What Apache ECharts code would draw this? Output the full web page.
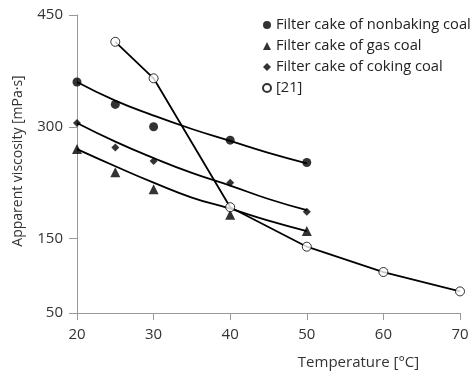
<!DOCTYPE html>
<html><head><meta charset="utf-8">
<script src="https://cdn.jsdelivr.net/npm/echarts@6/dist/echarts.min.js"></script>
<style>html,body{margin:0;padding:0;background:#fff}#c{width:471px;height:372px}</style>
</head><body><div id="c"></div>
<script>
const temps = [20, 25, 30, 40, 50];
const nonbaking = [360, 330, 300, 282, 252];
const gasCoal = [270, 239, 216, 182, 160];
const cokingCoal = [305, 272, 254, 225, 186];
const ref21Temps = [25, 30, 40, 50, 60, 70];
const ref21 = [414, 365, 192, 139, 105, 79];
// trend curves
const fitTemps = [20, 25, 30, 35, 40, 45, 50];
const nonbakingFit = [360, 335, 315, 297, 281, 265, 251];
const gasFit = [270, 247, 225, 205, 190, 174, 160];
const cokingFit = [305, 280, 258, 238, 221, 203, 188];
const yTicks = [50, 150, 300, 450];
const names = ['Filter cake of nonbaking coal', 'Filter cake of gas coal', 'Filter cake of coking coal', '[21]'];

const pairs = (xs, ys) => xs.map((x, i) => [x, ys[i]]);
const font = '"Open Sans", sans-serif';
const lineStyle = {color: '#000', width: 1.8};

const chart = echarts.init(document.getElementById('c'), null, {renderer: 'canvas'});
chart.setOption({
  animation: false,
  grid: {left: 77, right: 11, top: 15, bottom: 59, outerBoundsMode: 'none', containLabel: false},
  legend: {
    orient: 'vertical', left: 257, top: 12, itemGap: 5, itemWidth: 8, itemHeight: 8,
    textStyle: {fontFamily: font, fontSize: 14.7, color: '#222', lineHeight: 16, padding: [0,0,0,0]},
    data: names
  },
  xAxis: {
    type: 'value', min: 20, max: 70, interval: 10,
    name: 'Temperature [°C]', nameLocation: 'middle', nameGap: 42,
    nameTextStyle: {fontFamily: font, fontSize: 15, color: '#333', padding: [0,0,0,180]},
    axisLine: {lineStyle: {color: '#999', width: 1}},
    axisTick: {show: true, length: 7, lineStyle: {color: '#999'}},
    axisLabel: {fontFamily: font, fontSize: 15, color: '#333', margin: 14},
    splitLine: {show: false}
  },
  yAxis: {
    type: 'value', min: 50, max: 450,
    name: 'Apparent viscosity [mPa·s]', nameLocation: 'middle', nameGap: 52,
    nameTextStyle: {fontFamily: font, fontSize: 14, color: '#333', padding: [0,0,0,6]},
    axisLine: {show: true, lineStyle: {color: '#999', width: 1}},
    axisTick: {show: true, length: 8, lineStyle: {color: '#999'}, customValues: yTicks},
    axisLabel: {fontFamily: font, fontSize: 15, color: '#333', margin: 14, customValues: yTicks},
    splitLine: {show: false}
  },
  series: [
    {type: 'line', data: pairs(fitTemps, nonbakingFit), smooth: true, showSymbol: false, lineStyle, silent: true, z: 1},
    {type: 'line', data: pairs(fitTemps, gasFit), smooth: true, showSymbol: false, lineStyle, silent: true, z: 1},
    {type: 'line', data: pairs(fitTemps, cokingFit), smooth: true, showSymbol: false, lineStyle, silent: true, z: 1},
    {type: 'line', data: pairs(ref21Temps, ref21), showSymbol: false, lineStyle, silent: true, z: 1},
    {name: names[0], type: 'scatter', data: pairs(temps, nonbaking), symbol: 'circle', symbolSize: 9, itemStyle: {color: '#000'}, z: 3},
    {name: names[1], type: 'scatter', data: pairs(temps, gasCoal), symbol: 'triangle', symbolSize: 10, itemStyle: {color: '#000'}, z: 3},
    {name: names[2], type: 'scatter', data: pairs(temps, cokingCoal), symbol: 'diamond', symbolSize: 8, itemStyle: {color: '#000'}, z: 3},
    {name: names[3], type: 'scatter', data: pairs(ref21Temps, ref21), symbol: 'circle', symbolSize: 9, itemStyle: {color: '#fff', borderColor: '#000', borderWidth: 1}, z: 3}
  ]
});
</script></body></html>
